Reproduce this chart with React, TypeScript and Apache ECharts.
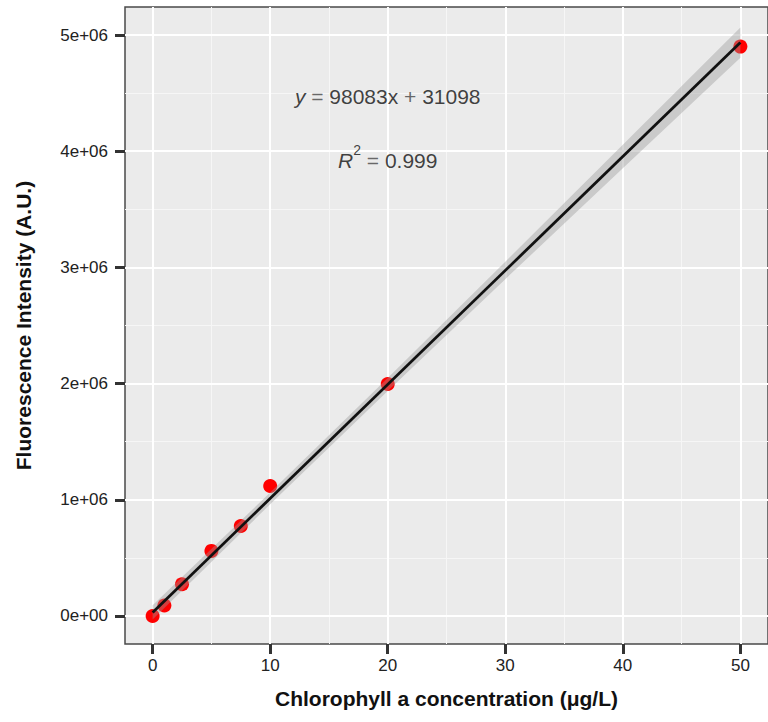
import React, { useEffect, useRef } from 'react';
import * as echarts from 'echarts';

// Measured points (concentration µg/L, fluorescence A.U.)
const concentration = [0, 1, 2.5, 5, 7.5, 10, 20, 50];
const intensity = [0, 90000, 273000, 560000, 775000, 1119000, 1997000, 4900000];

// Fitted line end points (from y = 98083x + 31098)
const fitX = [0, 50];
const fitY = [31098, 4935248];

// Confidence band
const bandX = [0, 10, 20, 30, 40, 50];
const bandLower = [-31000, 962000, 1937000, 2899000, 3853000, 4805000];
const bandUpper = [93000, 1062000, 2049000, 3049000, 4055000, 5065000];

// Ticks and grid lines
const xTicks = [0, 10, 20, 30, 40, 50];
const xMinor = [5, 15, 25, 35, 45];
const yTicks = [0, 1000000, 2000000, 3000000, 4000000, 5000000];
const yMinor = [500000, 1500000, 2500000, 3500000, 4500000];
const yTickLabels = ['0e+00', '1e+06', '2e+06', '3e+06', '4e+06', '5e+06'];

// Annotation anchors (data coordinates)
const eqPos = [20, 4500000];
const r2Pos = [20, 3950000];

const FONT = "'Liberation Sans', Arial, sans-serif";

export default function App() {
  const ref = useRef<HTMLDivElement>(null);

  useEffect(() => {
    if (!ref.current) return;
    const chart = echarts.init(ref.current, undefined, { renderer: 'svg' });

    const gridLines = [
      ...xMinor.map((v) => ({ xAxis: v, lineStyle: { width: 1, color: '#f6f6f6', type: 'solid' } })),
      ...yMinor.map((v) => ({ yAxis: v, lineStyle: { width: 1, color: '#f6f6f6', type: 'solid' } })),
      ...xTicks.map((v) => ({ xAxis: v, lineStyle: { width: 2, color: '#ffffff', type: 'solid' } })),
      ...yTicks.map((v) => ({ yAxis: v, lineStyle: { width: 2, color: '#ffffff', type: 'solid' } })),
    ];

    const option: any = {
      animation: false,
      textStyle: { fontFamily: FONT },
      grid: {
        left: 125,
        right: -9,
        top: 7,
        bottom: 78,
        show: true,
        backgroundColor: '#EBEBEB',
        borderColor: '#4a4a4a',
        borderWidth: 1.5,
      },
      xAxis: {
        type: 'value',
        min: -2.35,
        max: 52.35,
        name: 'Chlorophyll a concentration (μg/L)',
        nameLocation: 'middle',
        nameGap: 44,
        nameTextStyle: { fontSize: 21, fontWeight: 'bold', color: '#111', fontFamily: FONT },
        axisLine: { show: false, onZero: false },
        splitLine: { show: false },
        axisTick: {
          show: true,
          customValues: xTicks,
          length: 10,
          lineStyle: { color: '#333', width: 3 },
        },
        axisLabel: {
          customValues: xTicks,
          margin: 13,
          fontSize: 17,
          color: '#222',
          fontFamily: FONT,
          formatter: (v: number) => String(v),
        },
      },
      yAxis: {
        type: 'value',
        min: -241000,
        max: 5241000,
        name: 'Fluorescence Intensity (A.U.)',
        nameLocation: 'middle',
        nameGap: 91,
        nameTextStyle: { fontSize: 21, fontWeight: 'bold', color: '#111', fontFamily: FONT },
        axisLine: { show: false, onZero: false },
        splitLine: { show: false },
        axisTick: {
          show: true,
          customValues: yTicks,
          length: 10,
          lineStyle: { color: '#333', width: 3 },
        },
        axisLabel: {
          customValues: yTicks,
          margin: 17,
          fontSize: 17,
          color: '#222',
          fontFamily: FONT,
          formatter: (v: number) => {
            const i = yTicks.indexOf(v);
            return i >= 0 ? yTickLabels[i] : '';
          },
        },
      },
      series: [
        {
          name: 'grid',
          type: 'line',
          z: 1,
          data: [[0, 0]],
          showSymbol: false,
          lineStyle: { opacity: 0 },
          silent: true,
          markLine: {
            z: 1,
            silent: true,
            symbol: ['none', 'none'],
            label: { show: false },
            emphasis: { disabled: true },
            animation: false,
            data: gridLines,
          },
        },
        {
          name: 'points',
          type: 'scatter',
          z: 2,
          symbolSize: 14,
          itemStyle: { color: '#FF0000', opacity: 1 },
          data: concentration.map((x, i) => [x, intensity[i]]),
        },
        {
          name: 'band',
          type: 'custom',
          z: 3,
          silent: true,
          data: bandX.map((x, i) => [x, bandLower[i], bandUpper[i]]),
          encode: { x: 0, y: [1, 2] },
          renderItem: (params: any, api: any) => {
            if (params.dataIndex !== 0) return null;
            const up = bandX.map((x, i) => api.coord([x, bandUpper[i]]));
            const lo = bandX.map((x, i) => api.coord([x, bandLower[i]])).reverse();
            return {
              type: 'polygon',
              shape: { points: up.concat(lo) },
              style: { fill: 'rgba(153,153,153,0.4)' },
            };
          },
        },
        {
          name: 'fit',
          type: 'line',
          z: 4,
          showSymbol: false,
          silent: true,
          lineStyle: { color: '#111', width: 2.8 },
          data: fitX.map((x, i) => [x, fitY[i]]),
        },
        {
          name: 'annot',
          type: 'scatter',
          z: 5,
          silent: true,
          symbolSize: 0.1,
          itemStyle: { color: 'transparent' },
          data: [
            {
              value: eqPos,
              label: {
                show: true,
                position: 'inside',
                formatter: '{i|y}{s| = }{n|98083x}{s| + }{n|31098}',
              },
            },
            {
              value: r2Pos,
              label: {
                show: true,
                position: 'inside',
                formatter: '{i|R}{sup|2}{s| = }{n|0.999}',
              },
            },
          ],
          label: {
            show: true,
            rich: {
              i: { fontSize: 21, fontStyle: 'italic', color: '#111', fontFamily: FONT, lineHeight: 28, verticalAlign: 'bottom' },
              n: { fontSize: 21, color: '#111', fontFamily: FONT, lineHeight: 28, verticalAlign: 'bottom' },
              s: { fontSize: 21, color: '#444', fontFamily: FONT, lineHeight: 28, verticalAlign: 'bottom' },
              sup: { fontSize: 14, color: '#111', fontFamily: FONT, lineHeight: 14, verticalAlign: 'top' },
            },
          },
        },
      ],
    };

    chart.setOption(option);
    return () => chart.dispose();
  }, []);

  return (
    <div
      ref={ref}
      style={{ position: 'absolute', left: 0, top: 0, width: 768, height: 722 }}
    />
  );
}
